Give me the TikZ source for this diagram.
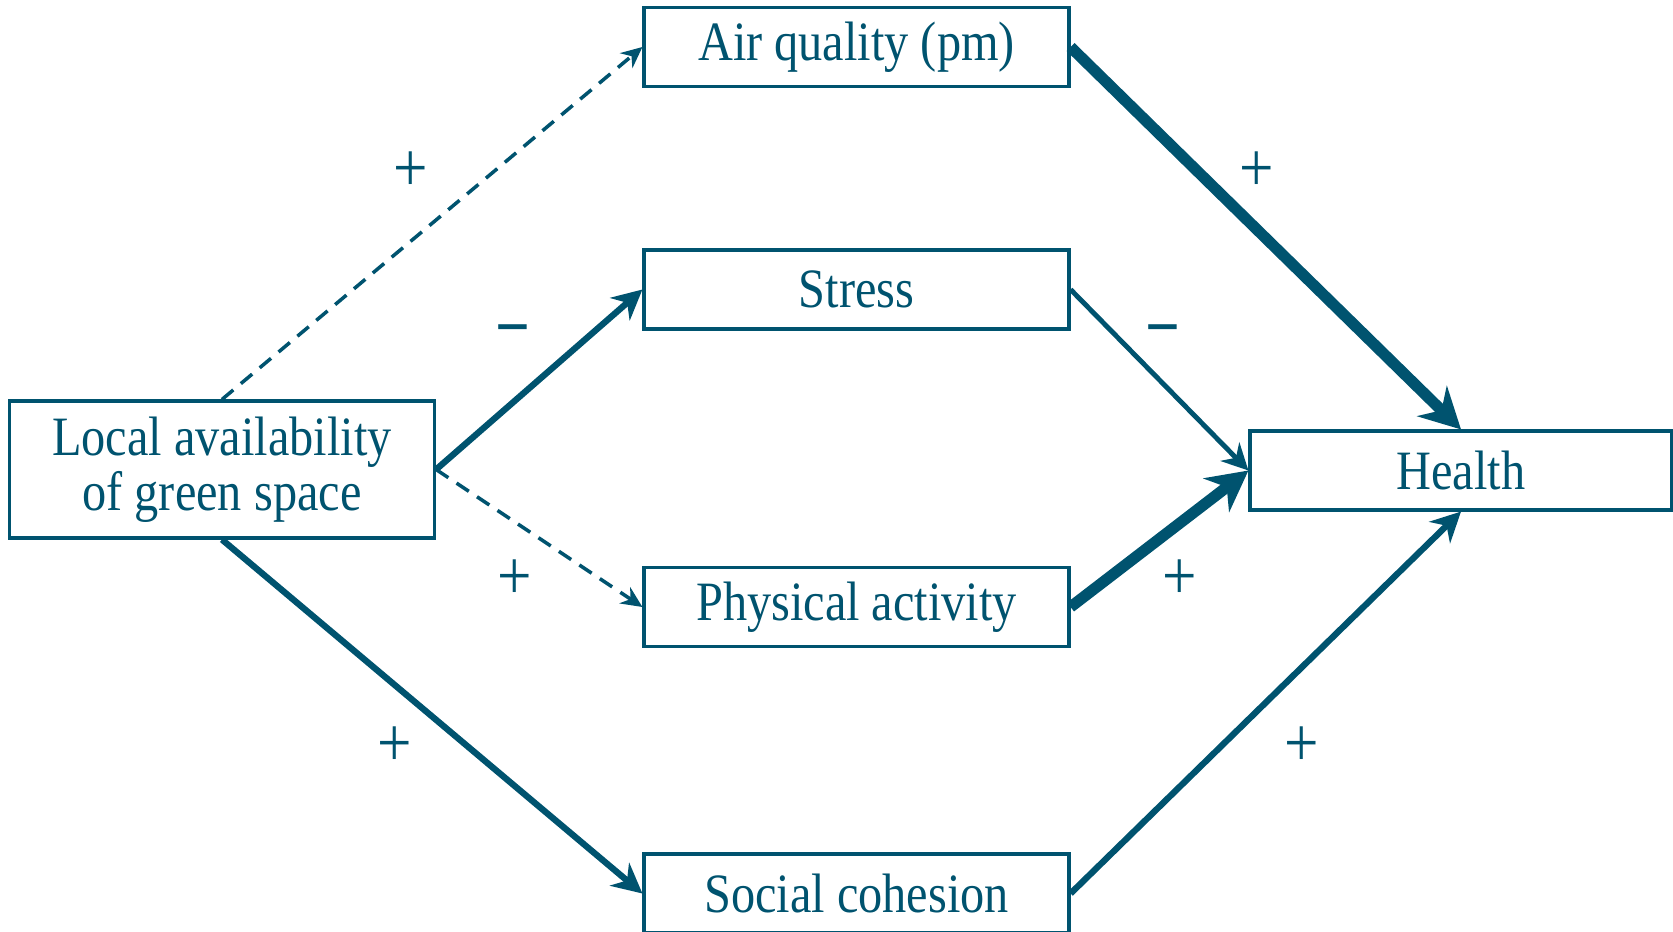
\documentclass[tikz,border=0pt]{standalone}
\usepackage{fontspec}
\setmainfont{Liberation Serif}[FakeStretch=0.87]
\usepackage{tikz}
\usetikzlibrary{arrows.meta}
\definecolor{pathblue}{RGB}{0,83,111}

\begin{document}
\begin{tikzpicture}[font=\fontsize{15.8}{15.6}\selectfont,text=pathblue,
  box/.style={draw=pathblue,line width=0.9pt,minimum width=4.25cm,minimum height=0.79cm,inner sep=0pt,align=center},
  sign/.style={inner sep=0pt,font=\fontsize{20}{20}\selectfont},
  dashpath/.style={draw=pathblue,line width=1pt,dash pattern=on 4.2pt off 2.8pt,-{Stealth[length=6pt,width=5.5pt]}},
  lowpath/.style={draw=pathblue,line width=1.4pt,-{Stealth[length=7.5pt,width=7.5pt]}},
  midpath/.style={draw=pathblue,line width=1.8pt,-{Stealth[length=8.5pt,width=8.5pt]}},
  boldpath/.style={draw=pathblue,line width=3.2pt,-{Stealth[length=11.5pt,width=12pt]}}]
\useasboundingbox (0,0) rectangle (16.73,9.31);
\node[box,minimum height=1.37cm] (local) at (2.22,4.615) {Local availability\\of green space};
\node[box] (air) at (8.565,8.84) {Air quality (pm)};
\node[box] (stress) at (8.565,6.415) {Stress};
\node[box] (phys) at (8.565,3.24) {Physical activity};
\node[box] (social) at (8.565,0.375) {Social cohesion};
\node[box,minimum width=4.22cm] (health) at (14.61,4.605) {Health};
\draw[dashpath] (local.north) -- (air.west);
\draw[midpath] (local.east) -- (stress.west);
\draw[dashpath] (local.east) -- (phys.west);
\draw[midpath] (local.south) -- (social.west);
\draw[boldpath] (air.east) -- (health.north);
\draw[lowpath] (stress.east) -- (health.west);
\draw[boldpath] (phys.east) -- (health.west);
\draw[midpath] (social.east) -- (health.south);
\node[sign] (s1) at (4.11,7.59) {+};
\node[sign] (s2) at (5.13,5.93) {\textbf{−}};
\node[sign] (s3) at (5.15,3.51) {+};
\node[sign] (s4) at (3.95,1.84) {+};
\node[sign] (s5) at (12.57,7.59) {+};
\node[sign] (s6) at (11.63,5.93) {\textbf{−}};
\node[sign] (s7) at (11.80,3.51) {+};
\node[sign] (s8) at (13.02,1.84) {+};
\end{tikzpicture}
\end{document}
